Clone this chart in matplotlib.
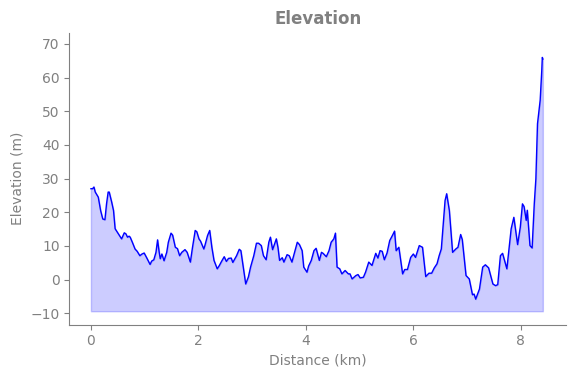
import numpy as np
import matplotlib
matplotlib.use('Agg')
import matplotlib.pyplot as plt

distance = [0.00, 0.03, 0.056, 0.08, 0.136, 0.18, 0.22, 0.26, 0.29, 0.32, 0.34, 0.386,
            0.42, 0.45, 0.49, 0.54, 0.57, 0.62, 0.65, 0.68, 0.71, 0.73, 0.77, 0.82,
            0.86, 0.91, 0.95, 0.99, 1.04, 1.10, 1.13, 1.17, 1.21, 1.24, 1.27, 1.29,
            1.32, 1.36, 1.41, 1.44, 1.49, 1.52, 1.57, 1.61, 1.65, 1.69, 1.75, 1.79,
            1.85, 1.89, 1.94, 1.97, 2.01, 2.04, 2.10, 2.12, 2.17, 2.21, 2.25, 2.29,
            2.35, 2.39, 2.43, 2.48, 2.52, 2.56, 2.61, 2.64, 2.71, 2.76, 2.79, 2.84,
            2.88, 2.93, 2.97, 3.03, 3.08, 3.12, 3.17, 3.21, 3.26, 3.31, 3.34, 3.38,
            3.45, 3.48, 3.51, 3.56, 3.59, 3.65, 3.69, 3.74, 3.78, 3.84, 3.88, 3.93,
            3.96, 4.02, 4.05, 4.10, 4.15, 4.19, 4.25, 4.29, 4.32, 4.38, 4.43, 4.47,
            4.52, 4.55, 4.58, 4.63, 4.67, 4.73, 4.79, 4.82, 4.86, 4.93, 4.97, 5.01,
            5.07, 5.11, 5.17, 5.23, 5.30, 5.34, 5.38, 5.42, 5.46, 5.51, 5.56, 5.61,
            5.65, 5.68, 5.73, 5.80, 5.84, 5.89, 5.95, 6.00, 6.04, 6.11, 6.17, 6.23,
            6.29, 6.34, 6.39, 6.44, 6.48, 6.52, 6.59, 6.62, 6.67, 6.73, 6.79, 6.83,
            6.88, 6.91, 6.98, 7.04, 7.10, 7.13, 7.16, 7.23, 7.29, 7.34, 7.40, 7.48,
            7.53, 7.57, 7.62, 7.66, 7.74, 7.82, 7.87, 7.94, 7.99, 8.03, 8.06, 8.10,
            8.12, 8.17, 8.21, 8.25, 8.28, 8.31, 8.36, 8.39, 8.40, 8.41]
elevation = [27.0, 27.0, 27.5, 26.0, 24.5, 20.5, 18.0, 17.8, 22.5, 26.0, 26.0, 23.0,
             20.5, 15.1, 14.1, 12.8, 12.1, 13.9, 13.6, 12.6, 12.9, 12.6, 11.1, 9.1,
             8.4, 7.1, 7.6, 7.9, 6.4, 4.5, 5.5, 5.9, 8.1, 11.8, 8.1, 6.2,
             7.6, 5.6, 8.1, 11.1, 13.8, 13.2, 9.6, 9.2, 7.1, 8.1, 8.9, 8.1,
             5.2, 9.6, 14.6, 14.2, 12.1, 11.4, 9.1, 10.1, 13.1, 14.6, 9.6, 5.7,
             3.2, 4.2, 5.4, 6.8, 5.4, 6.3, 6.4, 5.1, 7.1, 9.0, 8.6, 3.2,
             -1.3, 0.8, 3.7, 7.1, 10.8, 10.8, 10.1, 7.1, 5.9, 11.1, 12.6, 8.9,
             12.1, 9.6, 5.7, 6.5, 5.2, 7.4, 7.1, 5.2, 7.6, 11.1, 10.4, 8.6,
             3.7, 2.2, 4.0, 5.7, 8.6, 9.3, 5.7, 8.1, 7.8, 6.8, 8.6, 11.1,
             12.1, 13.8, 3.7, 3.2, 1.7, 2.7, 1.7, 1.7, 0.2, 1.2, 1.5, 0.5,
             0.7, 2.2, 5.2, 4.2, 7.8, 6.4, 8.6, 8.4, 5.9, 7.9, 11.6, 13.1,
             14.4, 8.6, 9.6, 1.7, 3.0, 3.0, 6.6, 7.6, 6.6, 10.1, 9.6, 0.9,
             1.9, 1.9, 3.5, 4.7, 7.1, 9.1, 23.5, 25.5, 20.5, 8.1, 9.1, 9.6,
             13.4, 11.9, 1.2, 0.2, -4.5, -4.3, -5.8, -2.8, 3.7, 4.4, 3.5, -1.3,
             -1.8, -1.5, 7.1, 7.8, 3.2, 15.1, 18.5, 10.4, 15.6, 22.5, 21.7, 17.6,
             20.6, 10.1, 9.4, 22.5, 30.0, 46.3, 53.3, 62.2, 66.0, 65.5]
base = -9.4

gray = '#808080'

fig, ax = plt.subplots(figsize=(5.74, 3.78), dpi=100)
ax.plot(distance, elevation, color='blue', linewidth=1)
ax.fill_between(distance, elevation, base, color='blue', alpha=0.2)

ax.set_xlim(-0.40, 8.84)
ax.set_ylim(-13.4, 73.4)
ax.set_title('Elevation', color=gray, fontweight='bold', fontsize=12)
ax.set_xlabel('Distance (km)', color=gray)
ax.set_ylabel('Elevation (m)', color=gray)
ax.tick_params(colors=gray)
for s in ['top', 'right']:
    ax.spines[s].set_visible(False)
for s in ['left', 'bottom']:
    ax.spines[s].set_color(gray)

fig.subplots_adjust(left=0.121, right=0.986, top=0.914, bottom=0.141)
fig.savefig('out.png')
